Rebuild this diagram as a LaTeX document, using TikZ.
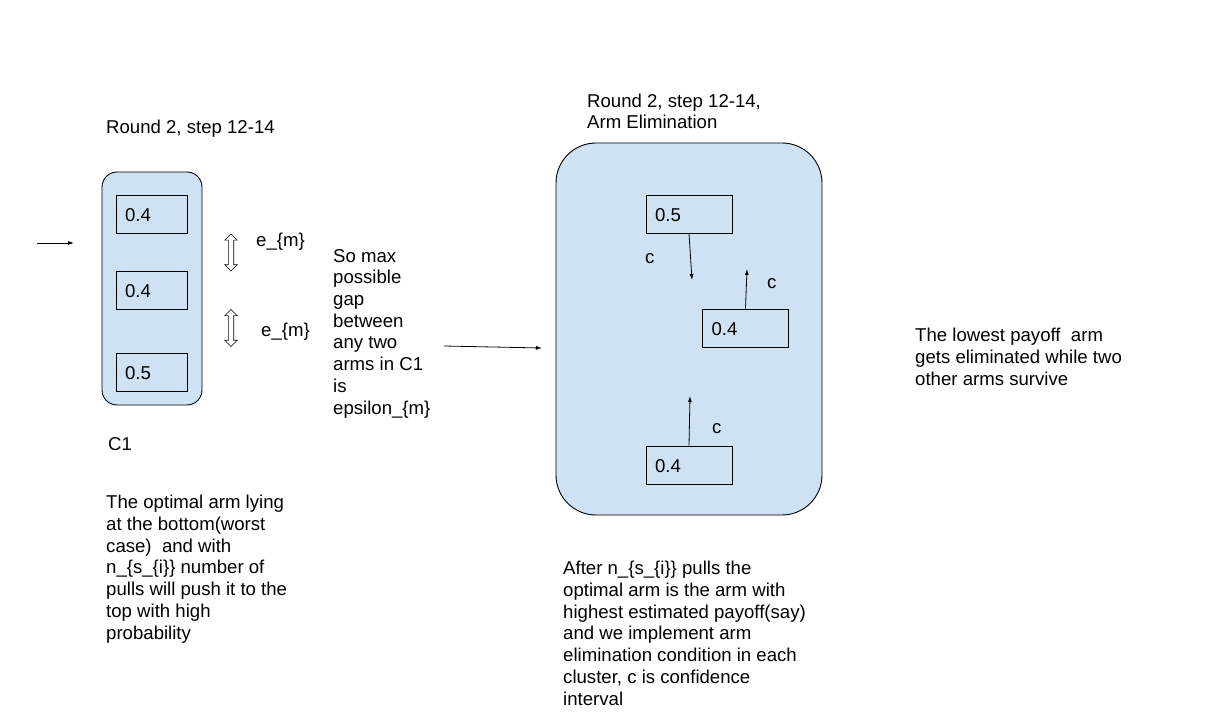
\documentclass[tikz,border=0pt]{standalone}
\usepackage{fontspec}
\setmainfont{Liberation Sans}
\usepackage{tikz}
\usetikzlibrary{arrows.meta,shapes.arrows}
\definecolor{cluster-blue}{RGB}{207,226,243}
\tikzstyle{cluster}=[draw, fill=cluster-blue, line width=0.9pt, inner sep=0]
\tikzstyle{arm}=[draw, line width=0.9pt, minimum height=38pt, inner xsep=9pt, inner ysep=0, text height=15.5pt, text depth=0pt, align=left]
\tikzstyle{note}=[anchor=base west, inner sep=0, align=left]
\tikzstyle{gap}=[draw, fill=white, shape=double arrow, rotate=90, line width=0.7pt, minimum height=37pt, inner xsep=0, inner ysep=2.3pt, double arrow head extend=3.5pt]
\tikzstyle{push}=[-{Latex[length=6pt,width=4pt]}, line width=0.8pt]

\begin{document}
\begin{tikzpicture}[x=1pt, y=-1pt, font=\fontsize{18.6}{21.7}\selectfont]
	\useasboundingbox (0,0) rectangle (1205,719);
	\node[note] (title1) at (106,134) {Round 2, step 12-14};
	\node[cluster, rounded corners=15pt, minimum width=100pt, minimum height=233pt] (c1) at (152,288.5) {};
	\node[arm, text width=53pt] (a1) at (151.5,214) {0.4};
	\node[arm, text width=53pt] (a2) at (151.5,290) {0.4};
	\node[arm, text width=53pt] (a3) at (151.5,372) {0.5};
	\coordinate (in1) at (37,243);
	\coordinate (in2) at (74,243);
	\draw[push] (in1) -- (in2);
	\node[gap] (g1) at (231,252.5) {};
	\node[gap] (g2) at (231,328) {};
	\node[note] (e1) at (256,247) {e\_\{m\}};
	\node[note] (e2) at (261,337) {e\_\{m\}};
	\node[note] (name1) at (108,450) {C1};
	\node[note] (text1) at (106,639) {The optimal arm lying\\at the bottom(worst\\case)~ and with\\n\_\{s\_\{i\}\} number of\\pulls will push it to the\\top with high\\probability};
	\node[note] (text2) at (333,414) {So max\\possible\\gap\\between\\any two\\arms in C1\\is\\epsilon\_\{m\}};
	\coordinate (mid1) at (444,346);
	\coordinate (mid2) at (542,348);
	\draw[push] (mid1) -- (mid2);
	\node[note] (title2) at (587,129) {Round 2, step 12-14,\\Arm Elimination};
	\node[cluster, rounded corners=40pt, minimum width=266pt, minimum height=372pt] (c2) at (689,329) {};
	\node[arm, text width=68pt] (b1) at (689,214) {0.5};
	\node[arm, text width=68pt] (b2) at (745.5,328) {0.4};
	\node[arm, text width=68pt] (b3) at (689,465) {0.4};
	\coordinate (t1) at (692,280);
	\coordinate (t2) at (747,269);
	\coordinate (t3) at (690,396);
	\draw[push] (b1.south) -- (t1);
	\draw[push] (b2.north) -- (t2);
	\draw[push] (b3.north) -- (t3);
	\node[note] (c-a) at (645,264) {c};
	\node[note] (c-b) at (767,289) {c};
	\node[note] (c-c) at (712,433) {c};
	\node[note] (text3) at (915,385) {The lowest payoff~ arm\\gets eliminated while two\\other arms survive};
	\node[note] (text4) at (563,705) {After n\_\{s\_\{i\}\} pulls the\\optimal arm is the arm with\\highest estimated payoff(say)\\and we implement arm\\elimination condition in each\\cluster, c is confidence\\interval};
\end{tikzpicture}
\end{document}
